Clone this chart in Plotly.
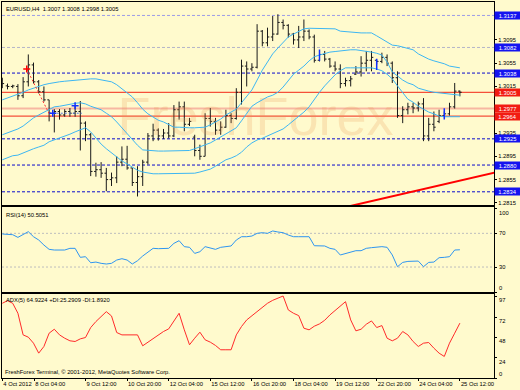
import plotly.graph_objects as go

# ---------------- data ----------------
bar_idx = list(range(89))
opens = [1.3026,1.3016,1.3015,1.3015,1.2999,1.3023,1.3052,1.3023,1.3006,1.2992,
         1.2969,1.2972,1.2966,1.2972,1.2969,1.2972,1.2952,1.2932,1.2869,1.2872,
         1.2866,1.2855,1.2858,1.2885,1.2890,1.2875,1.2850,1.2860,1.2885,1.2930,
         1.2940,1.2930,1.2935,1.2930,1.2975,1.2980,1.2950,1.2928,1.2905,1.2895,
         1.2960,1.2955,1.2940,1.2945,1.2965,1.2960,1.3005,1.3050,1.3045,1.3048,
         1.3110,1.3090,1.3100,1.3105,1.3125,1.3120,1.3105,1.3095,1.3100,1.3110,
         1.3100,1.3060,1.3070,1.3062,1.3050,1.3045,1.3020,1.3025,1.3036,1.3040,
         1.3055,1.3060,1.3060,1.3058,1.3065,1.3055,1.3030,1.2965,1.2975,1.2980,
         1.2978,1.2985,1.2930,1.2950,1.2955,1.2965,1.2968,1.2980,1.3007]
highs = [1.3030,1.3020,1.3018,1.3019,1.3031,1.3070,1.3056,1.3026,1.3015,1.2992,
         1.2976,1.2976,1.2976,1.2978,1.2983,1.2990,1.2955,1.2935,1.2884,1.2885,
         1.2875,1.2867,1.2895,1.2912,1.2913,1.2875,1.2878,1.2889,1.2935,1.2951,
         1.2943,1.2942,1.2952,1.2983,1.2989,1.2989,1.2961,1.2932,1.2915,1.2969,
         1.2978,1.2961,1.2955,1.2975,1.2969,1.3012,1.3061,1.3058,1.3055,1.3122,
         1.3112,1.3116,1.3136,1.3139,1.3130,1.3122,1.3107,1.3119,1.3130,1.3113,
         1.3104,1.3076,1.3076,1.3064,1.3058,1.3053,1.3030,1.3033,1.3050,1.3067,
         1.3076,1.3076,1.3061,1.3073,1.3070,1.3058,1.3041,1.2981,1.2987,1.2987,
         1.2989,1.2995,1.2961,1.2972,1.2975,1.2972,1.2987,1.3021,1.3008]
lows = [1.3012,1.3010,1.3012,1.2992,1.2995,1.3015,1.3020,1.3003,1.2989,1.2955,
        1.2936,1.2958,1.2963,1.2963,1.2963,1.2905,1.2921,1.2861,1.2860,1.2858,
        1.2835,1.2844,1.2849,1.2878,1.2872,1.2844,1.2826,1.2844,1.2881,1.2921,
        1.2922,1.2925,1.2926,1.2928,1.2958,1.2938,1.2947,1.2895,1.2889,1.2895,
        1.2946,1.2932,1.2932,1.2944,1.2952,1.2958,1.2984,1.3015,1.3041,1.3046,
        1.3084,1.3084,1.3093,1.3104,1.3113,1.3099,1.3087,1.3081,1.3093,1.3096,
        1.3056,1.3058,1.3058,1.3047,1.3041,1.3012,1.3015,1.3015,1.3035,1.3032,
        1.3041,1.3041,1.3053,1.3055,1.3050,1.3021,1.2961,1.2952,1.2967,1.2969,
        1.2972,1.2921,1.2921,1.2938,1.2952,1.2964,1.2965,1.2977,1.2998]
closes = [1.3020,1.3015,1.3016,1.2999,1.3023,1.3052,1.3023,1.3006,1.2992,1.2969,
          1.2972,1.2966,1.2972,1.2969,1.2972,1.2952,1.2932,1.2869,1.2872,1.2866,
          1.2855,1.2858,1.2885,1.2890,1.2875,1.2850,1.2860,1.2885,1.2930,1.2940,
          1.2930,1.2935,1.2930,1.2975,1.2980,1.2950,1.2955,1.2905,1.2895,1.2960,
          1.2955,1.2940,1.2945,1.2965,1.2960,1.3005,1.3050,1.3045,1.3048,1.3110,
          1.3090,1.3100,1.3105,1.3125,1.3120,1.3105,1.3095,1.3100,1.3110,1.3100,
          1.3060,1.3070,1.3062,1.3050,1.3045,1.3020,1.3025,1.3028,1.3040,1.3055,
          1.3060,1.3065,1.3058,1.3065,1.3055,1.3030,1.2965,1.2975,1.2980,1.2978,
          1.2985,1.2930,1.2950,1.2945,1.2965,1.2968,1.2980,1.3007,1.3005]

bb_upper = [1.2992,1.2995,1.2999,1.3002,1.3005,1.3009,1.3012,1.3016,1.3018,1.3020,
            1.3022,1.3023,1.3024,1.3025,1.3026,1.3026,1.3027,1.3028,1.3028,1.3026,
            1.3024,1.3023,1.3018,1.3011,1.3005,1.2997,1.2987,1.2976,1.2968,1.2963,
            1.2957,1.2954,1.2949,1.2945,1.2945,1.2944,1.2944,1.2944,1.2944,1.2945,
            1.2949,1.2954,1.2959,1.2966,1.2971,1.2976,1.2987,1.2999,1.3009,1.3026,
            1.3043,1.3057,1.3071,1.3081,1.3091,1.3100,1.3105,1.3110,1.3114,1.3115,
            1.3115,1.3115,1.3115,1.3115,1.3114,1.3110,1.3109,1.3109,1.3108,1.3107,
            1.3107,1.3107,1.3102,1.3097,1.3091,1.3086,1.3085,1.3083,1.3081,1.3078,
            1.3071,1.3066,1.3062,1.3059,1.3057,1.3054,1.3050,1.3048,1.3047]
bb_middle = [1.2932,1.2935,1.2938,1.2942,1.2947,1.2954,1.2961,1.2966,1.2971,1.2976,
             1.2980,1.2981,1.2983,1.2985,1.2986,1.2987,1.2985,1.2981,1.2978,1.2975,
             1.2969,1.2963,1.2954,1.2944,1.2933,1.2923,1.2914,1.2906,1.2905,1.2904,
             1.2904,1.2904,1.2904,1.2904,1.2904,1.2904,1.2905,1.2908,1.2911,1.2914,
             1.2918,1.2923,1.2928,1.2933,1.2938,1.2944,1.2956,1.2968,1.2981,1.2987,
             1.2992,1.2997,1.3000,1.3005,1.3014,1.3026,1.3036,1.3043,1.3050,1.3059,
             1.3066,1.3069,1.3072,1.3074,1.3075,1.3076,1.3078,1.3078,1.3078,1.3077,
             1.3076,1.3074,1.3072,1.3069,1.3057,1.3040,1.3033,1.3026,1.3021,1.3018,
             1.3012,1.3009,1.3007,1.3005,1.3004,1.3003,1.3002,1.3001,1.3000]
bb_lower = [1.2889,1.2892,1.2896,1.2897,1.2901,1.2904,1.2908,1.2911,1.2914,1.2920,
            1.2923,1.2926,1.2930,1.2933,1.2937,1.2940,1.2944,1.2937,1.2926,1.2916,
            1.2908,1.2901,1.2894,1.2887,1.2882,1.2877,1.2871,1.2868,1.2866,1.2865,
            1.2865,1.2865,1.2865,1.2865,1.2865,1.2865,1.2865,1.2866,1.2868,1.2870,
            1.2873,1.2878,1.2883,1.2889,1.2892,1.2896,1.2902,1.2911,1.2918,1.2923,
            1.2926,1.2930,1.2933,1.2937,1.2942,1.2949,1.2956,1.2963,1.2971,1.2980,
            1.2993,1.3005,1.3016,1.3026,1.3035,1.3042,1.3047,1.3047,1.3047,1.3047,
            1.3047,1.3047,1.3045,1.3042,1.3036,1.3028,1.3016,1.3004,1.2993,1.2988,
            1.2981,1.2976,1.2971,1.2968,1.2964,1.2963,1.2963,1.2963,1.2963]

rsi = [69.2,69.2,68.4,65.2,68.4,72.0,66.0,62.1,56.1,51.0,
       50.2,50.2,50.2,52.2,52.2,41.5,42.3,35.1,35.9,34.4,
       33.6,34.4,38.3,39.9,38.3,33.6,37.5,43.1,48.2,52.2,
       51.8,51.8,52.2,58.1,61.3,54.2,53.4,46.2,48.2,54.2,
       52.2,51.0,53.4,54.2,55.0,62.1,66.0,66.0,66.8,70.0,
       70.8,70.0,72.8,71.6,70.8,68.0,66.0,66.0,66.0,66.0,
       55.3,55.0,55.0,52.2,51.0,44.3,46.2,47.8,49.4,49.4,
       52.2,53.0,53.4,54.2,53.4,44.3,30.4,35.5,36.7,37.1,
       37.1,30.4,35.5,35.9,41.1,41.5,42.3,50.2,50.5]
adx = [88.4,91.5,88.4,76.6,51.0,48.3,41.2,29.4,37.3,53.0,
       57.7,51.0,47.1,44.0,43.2,46.3,47.9,59.7,66.8,72.6,
       78.5,73.4,53.8,51.0,51.0,51.4,51.0,38.1,42.4,47.1,
       51.0,55.0,58.1,67.5,76.6,57.0,39.3,47.1,54.2,45.2,
       42.4,38.5,33.4,33.4,33.4,51.0,60.9,68.7,73.8,79.3,
       84.0,88.4,91.9,94.3,97.0,80.5,76.6,73.8,58.9,57.0,
       61.3,64.0,68.3,74.6,80.1,85.6,90.3,68.7,55.8,57.7,
       63.6,67.5,59.7,62.0,47.1,44.0,47.1,55.0,51.0,43.2,
       37.3,41.2,42.0,35.3,29.4,25.5,41.2,53.0,64.9]

date_labels = ["4 Oct 2012", "8 Oct 04:00", "9 Oct 12:00", "10 Oct 20:00", "12 Oct 04:00",
               "15 Oct 12:00", "16 Oct 20:00", "18 Oct 04:00", "19 Oct 12:00",
               "22 Oct 20:00", "24 Oct 04:00", "25 Oct 12:00"]
date_pos = [0, 6.15, 16, 24, 32, 40, 48, 56, 64, 72, 80, 88]
price_ticks = [1.3135, 1.3095, 1.3055, 1.3015, 1.2975, 1.2935, 1.2895, 1.2855, 1.2815]
rsi_ticks = [100, 70, 30, 0]
rsi_levels = [70, 30]
adx_ticks = [97, 72, 48, 24, 0]

level_prices = [1.3137, 1.3082, 1.3038, 1.3005, 1.2977, 1.2964, 1.2925, 1.2880, 1.2834]
level_kind = ["lav", "gray", "blue", "red", "salmon", "red", "blue", "blue", "blue"]

trend_x = [66.0, 95.0]
trend_y = [1.28077, 1.28677]

trade_line_x = [4.7, 9.3]
trade_line_y = [1.3045, 1.2963]
entry_x = [4.7]
entry_y = [1.3045]
blue_cross_x = [9.7, 14.0]
blue_cross_y = [1.2969, 1.2982]
blue_dot_x = [9.7, 15.3]
blue_dot_y = [1.2969, 1.2969]
arrow_x = [61, 72, 85]
arrow_y = [1.3069, 1.3053, 1.2968]

header = "EURUSD,H4  1.3007 1.3008 1.2998 1.3005"
rsi_title = "RSI(14) 50.5051"
adx_title = "ADX(5) 64.9224 +DI:25.2909 -DI:1.8920"
footer = "FreshForex Terminal, \u00a9 2001-2012, MetaQuotes Software Corp."
watermark = "FreshForex"

# ---------------- styles ----------------
BG = "#FFFACD"
FONT = "Liberation Sans"
FS = 5.8
BAND = "#3DB6F2"

n = min(len(opens), len(highs), len(lows), len(closes), len(bar_idx))

fig = go.Figure()

# watermark (under everything)
fig.add_trace(go.Scatter(x=[48.7], y=[1.2955], mode="text", text=[watermark],
                         textfont=dict(family="Liberation Sans", size=54,
                                       color="rgba(230,150,80,0.22)"),
                         xaxis="x", yaxis="y", hoverinfo="skip", showlegend=False))

# trend line
fig.add_trace(go.Scatter(x=trend_x, y=trend_y, mode="lines",
                         line=dict(color="#FF0000", width=2),
                         xaxis="x", yaxis="y", showlegend=False))

# bars
fig.add_trace(go.Ohlc(x=bar_idx[:n], open=opens[:n], high=highs[:n], low=lows[:n], close=closes[:n],
                      increasing=dict(line=dict(color="#1A1A1A", width=1)),
                      decreasing=dict(line=dict(color="#1A1A1A", width=1)),
                      tickwidth=0.35, xaxis="x", yaxis="y", showlegend=False))

# bollinger bands
for band in (bb_upper, bb_middle, bb_lower):
    m = min(len(band), len(bar_idx))
    fig.add_trace(go.Scatter(x=bar_idx[:m], y=band[:m], mode="lines",
                             line=dict(color=BAND, width=1),
                             xaxis="x", yaxis="y", showlegend=False))

# trade history marks
fig.add_trace(go.Scatter(x=trade_line_x, y=trade_line_y, mode="lines",
                         line=dict(color="#FF3030", width=1, dash="2px,2px"),
                         xaxis="x", yaxis="y", showlegend=False))
fig.add_trace(go.Scatter(x=blue_dot_x, y=blue_dot_y, mode="lines",
                         line=dict(color="#5A78E0", width=1, dash="2px,2px"),
                         xaxis="x", yaxis="y", showlegend=False))
fig.add_trace(go.Scatter(x=entry_x, y=entry_y, mode="markers",
                         marker=dict(symbol="cross-thin", size=5, color="#FF0000",
                                     line=dict(color="#FF0000", width=1.5)),
                         xaxis="x", yaxis="y", showlegend=False))
fig.add_trace(go.Scatter(x=blue_cross_x, y=blue_cross_y, mode="markers",
                         marker=dict(symbol="cross-thin", size=5, color="#1030FF",
                                     line=dict(color="#1030FF", width=1.5)),
                         xaxis="x", yaxis="y", showlegend=False))
fig.add_trace(go.Scatter(x=arrow_x, y=arrow_y, mode="markers",
                         marker=dict(symbol="line-ns", size=8,
                                     line=dict(color="#1030FF", width=1.5)),
                         xaxis="x", yaxis="y", showlegend=False))

# RSI
m = min(len(rsi), len(bar_idx))
fig.add_trace(go.Scatter(x=bar_idx[:m], y=rsi[:m], mode="lines",
                         line=dict(color="#2E95F0", width=1),
                         xaxis="x2", yaxis="y2", showlegend=False))
# ADX
m = min(len(adx), len(bar_idx))
fig.add_trace(go.Scatter(x=bar_idx[:m], y=adx[:m], mode="lines",
                         line=dict(color="#FF2A2A", width=1),
                         xaxis="x3", yaxis="y3", showlegend=False))

# ---------------- shapes / labels ----------------
line_style = {
    "lav": dict(color="#9C9CE8", width=1, dash="3px,2px"),
    "gray": dict(color="#B4B4C8", width=1, dash="3px,2px"),
    "blue": dict(color="#0A0ACC", width=1, dash="3px,2px"),
    "red": dict(color="#F5503A", width=1.3),
    "salmon": dict(color="#F7B7A2", width=2),
}
box_color = {"lav": "#1414F0", "gray": "#1414F0", "blue": "#1414F0",
             "red": "#F21C12", "salmon": "#F21C12"}

shapes = []
annotations = []
for p, k in zip(level_prices, level_kind):
    shapes.append(dict(type="line", xref="x domain", yref="y", x0=0, x1=1, y0=p, y1=p,
                       line=line_style[k], layer="below"))
    annotations.append(dict(xref="paper", x=1, xanchor="left", yref="y", y=p,
                            text=f"{p:.4f}", showarrow=False, width=25, height=7,
                            bgcolor=box_color[k], borderpad=0, align="center",
                            font=dict(family=FONT, size=FS, color="#FFFFFF")))
for lv in rsi_levels:
    shapes.append(dict(type="line", xref="x2 domain", yref="y2", x0=0, x1=1, y0=lv, y1=lv,
                       line=dict(color="#BDBDBD", width=1, dash="2px,2px"), layer="below"))

txt_font = dict(family=FONT, size=FS, color="#000000")

# indicator scale labels (kept inside their windows like the terminal does)
def scale_labels(vals, yref, top, bottom, inner_shift):
    out = []
    for v in vals:
        if v == top:
            sh = -4.5
        elif v == bottom:
            sh = 4.0
        else:
            sh = inner_shift
        out.append(dict(xref="paper", x=1, xanchor="left", xshift=3, yref=yref, y=v,
                        yshift=sh, text=str(v), showarrow=False, font=txt_font))
    return out

annotations += scale_labels(rsi_ticks, "y2", 100, 0, 0)
annotations += scale_labels(adx_ticks, "y3", None, 0, -4)

annotations += [
    dict(xref="paper", x=0, xanchor="left", xshift=2, yref="paper", y=1, yanchor="top", yshift=-2,
         text=header, showarrow=False, font=txt_font),
    dict(xref="paper", x=0, xanchor="left", xshift=2, yref="paper", y=0.4535, yanchor="top", yshift=-3,
         text=rsi_title, showarrow=False, font=txt_font),
    dict(xref="paper", x=0, xanchor="left", xshift=2, yref="paper", y=0.2221, yanchor="top", yshift=-1,
         text=adx_title, showarrow=False, font=txt_font),
    dict(xref="paper", x=0, xanchor="left", xshift=1, yref="paper", y=0, yanchor="bottom", yshift=1,
         text=footer, showarrow=False, font=txt_font),
]

axis_common = dict(showgrid=False, zeroline=False, showline=True, mirror=True,
                   linecolor="#000000", linewidth=1, automargin=False)
x_range = [-0.06, 94.56]

fig.update_layout(
    width=520, height=390,
    margin=dict(l=2, r=26, t=2, b=12, autoexpand=False),
    paper_bgcolor=BG, plot_bgcolor=BG,
    showlegend=False,
    font=dict(family=FONT, size=FS, color="#000000"),
    xaxis=dict(domain=[0, 1], anchor="y", range=x_range, showticklabels=False, ticks="",
               rangeslider=dict(visible=False), **axis_common),
    xaxis2=dict(domain=[0, 1], anchor="y2", matches="x", range=x_range, showticklabels=False,
                ticks="", **axis_common),
    xaxis3=dict(domain=[0, 1], anchor="y3", matches="x", range=x_range,
                tickvals=date_pos, ticktext=date_labels, ticks="outside", ticklen=2,
                tickcolor="#000000", ticklabelposition="outside right", tickangle=0,
                tickfont=dict(family=FONT, size=FS), **axis_common),
    yaxis=dict(domain=[0.4588, 1], anchor="x", side="right", range=[1.28105, 1.31601],
               tickvals=price_ticks, tickformat=".4f", ticks="outside", ticklen=2,
               tickcolor="#000000", tickfont=dict(family=FONT, size=FS), **axis_common),
    yaxis2=dict(domain=[0.2279, 0.4535], anchor="x2", side="right", range=[0, 100.7],
                tickvals=rsi_ticks, showticklabels=False, ticks="outside", ticklen=2,
                tickcolor="#000000", **axis_common),
    yaxis3=dict(domain=[0, 0.2221], anchor="x3", side="right", range=[0, 98.8],
                tickvals=adx_ticks, showticklabels=False, ticks="outside", ticklen=2,
                tickcolor="#000000", **axis_common),
    shapes=shapes,
    annotations=annotations,
)

fig.write_html("out.html", config={"displayModeBar": False},
               post_script="document.body.style.margin='0';document.body.style.background='" + BG + "';")
